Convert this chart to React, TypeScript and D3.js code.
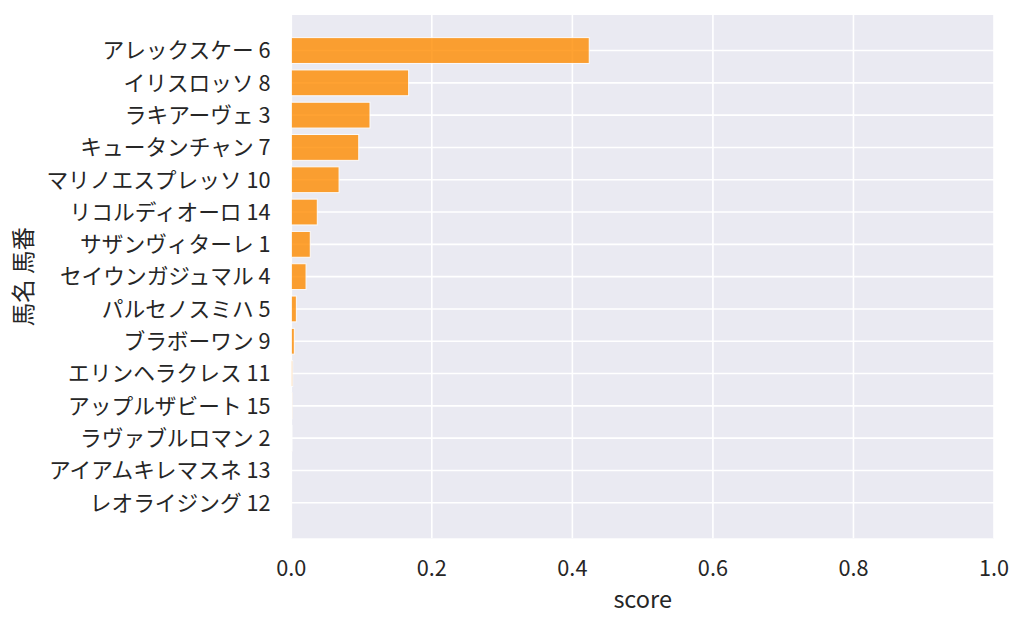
import * as d3 from "d3";
import React from "react";

// horse name + number, ranked by score
const horseLabels = [
  "アレックスケー 6",
  "イリスロッソ 8",
  "ラキアーヴェ 3",
  "キュータンチャン 7",
  "マリノエスプレッソ 10",
  "リコルディオーロ 14",
  "サザンヴィターレ 1",
  "セイウンガジュマル 4",
  "パルセノスミハ 5",
  "ブラボーワン 9",
  "エリンヘラクレス 11",
  "アップルザビート 15",
  "ラヴァブルロマン 2",
  "アイアムキレマスネ 13",
  "レオライジング 12",
];

const scores = [
  0.424, 0.167, 0.112, 0.096, 0.068, 0.037, 0.027, 0.021, 0.0072, 0.0043,
  0.002, 0.0012, 0.001, 0.0003, 0.0001,
];

const xTicks = [0, 0.2, 0.4, 0.6, 0.8, 1.0];

const width = 1024;
const height = 627;
const left = 291.3;
const right = 994;
const top = 15;
const bottom = 538.3;
const font = "'Noto Sans CJK JP', 'Noto Sans', sans-serif";
const tickSize = 21.7;
const labelSize = 23.5;

const App = () => {
  const x = d3.scaleLinear().domain([0, 1]).range([left, right]);
  const y = d3
    .scaleLinear()
    .domain([-1.1, horseLabels.length - 1 + 1.1])
    .range([top, bottom]);
  const step = y(1) - y(0);
  const barH = step * 0.8;

  return (
    <div style={{ position: "absolute", left: 0, top: 0 }}>
      <svg width={width} height={height} style={{ display: "block" }}>
        <rect x={0} y={0} width={width} height={height} fill="#ffffff" />
        <rect
          x={left}
          y={top}
          width={right - left}
          height={bottom - top}
          fill="#eaeaf2"
        />

        {/* grid */}
        {xTicks.map((t) => (
          <line
            key={"gx" + t}
            x1={x(t)}
            x2={x(t)}
            y1={top}
            y2={bottom}
            stroke="#ffffff"
            strokeWidth={1.6}
          />
        ))}
        {horseLabels.map((_, i) => (
          <line
            key={"gy" + i}
            x1={left}
            x2={right}
            y1={y(i)}
            y2={y(i)}
            stroke="#ffffff"
            strokeWidth={1.6}
          />
        ))}

        {/* bars */}
        {scores.map((s, i) => (
          <rect
            key={"b" + i}
            x={x(0)}
            y={y(i) - barH / 2}
            width={x(s) - x(0)}
            height={barH}
            fill="#ff8c00"
            stroke="#ffffff"
            strokeWidth={1}
            opacity={0.8}
          />
        ))}

        {/* x tick labels */}
        {xTicks.map((t) => (
          <text
            key={"tx" + t}
            x={x(t)}
            y={576}
            textAnchor="middle"
            fontFamily={font}
            fontSize={tickSize}
            fill="#262626"
          >
            {d3.format(".1f")(t)}
          </text>
        ))}

        {/* y tick labels */}
        {horseLabels.map((name, i) => (
          <text
            key={"ty" + i}
            x={270.5}
            y={y(i)}
            dy="0.36em"
            textAnchor="end"
            fontFamily={font}
            fontSize={tickSize}
            fill="#262626"
          >
            {name}
          </text>
        ))}

        <text
          x={(left + right) / 2}
          y={608}
          textAnchor="middle"
          fontFamily={font}
          fontSize={labelSize}
          fill="#262626"
        >
          score
        </text>
        <text
          transform={`translate(24,${(top + bottom) / 2}) rotate(-90)`}
          dy="0.36em"
          textAnchor="middle"
          fontFamily={font}
          fontSize={labelSize}
          fill="#262626"
        >
          馬名 馬番
        </text>
      </svg>
    </div>
  );
};

export default App;
